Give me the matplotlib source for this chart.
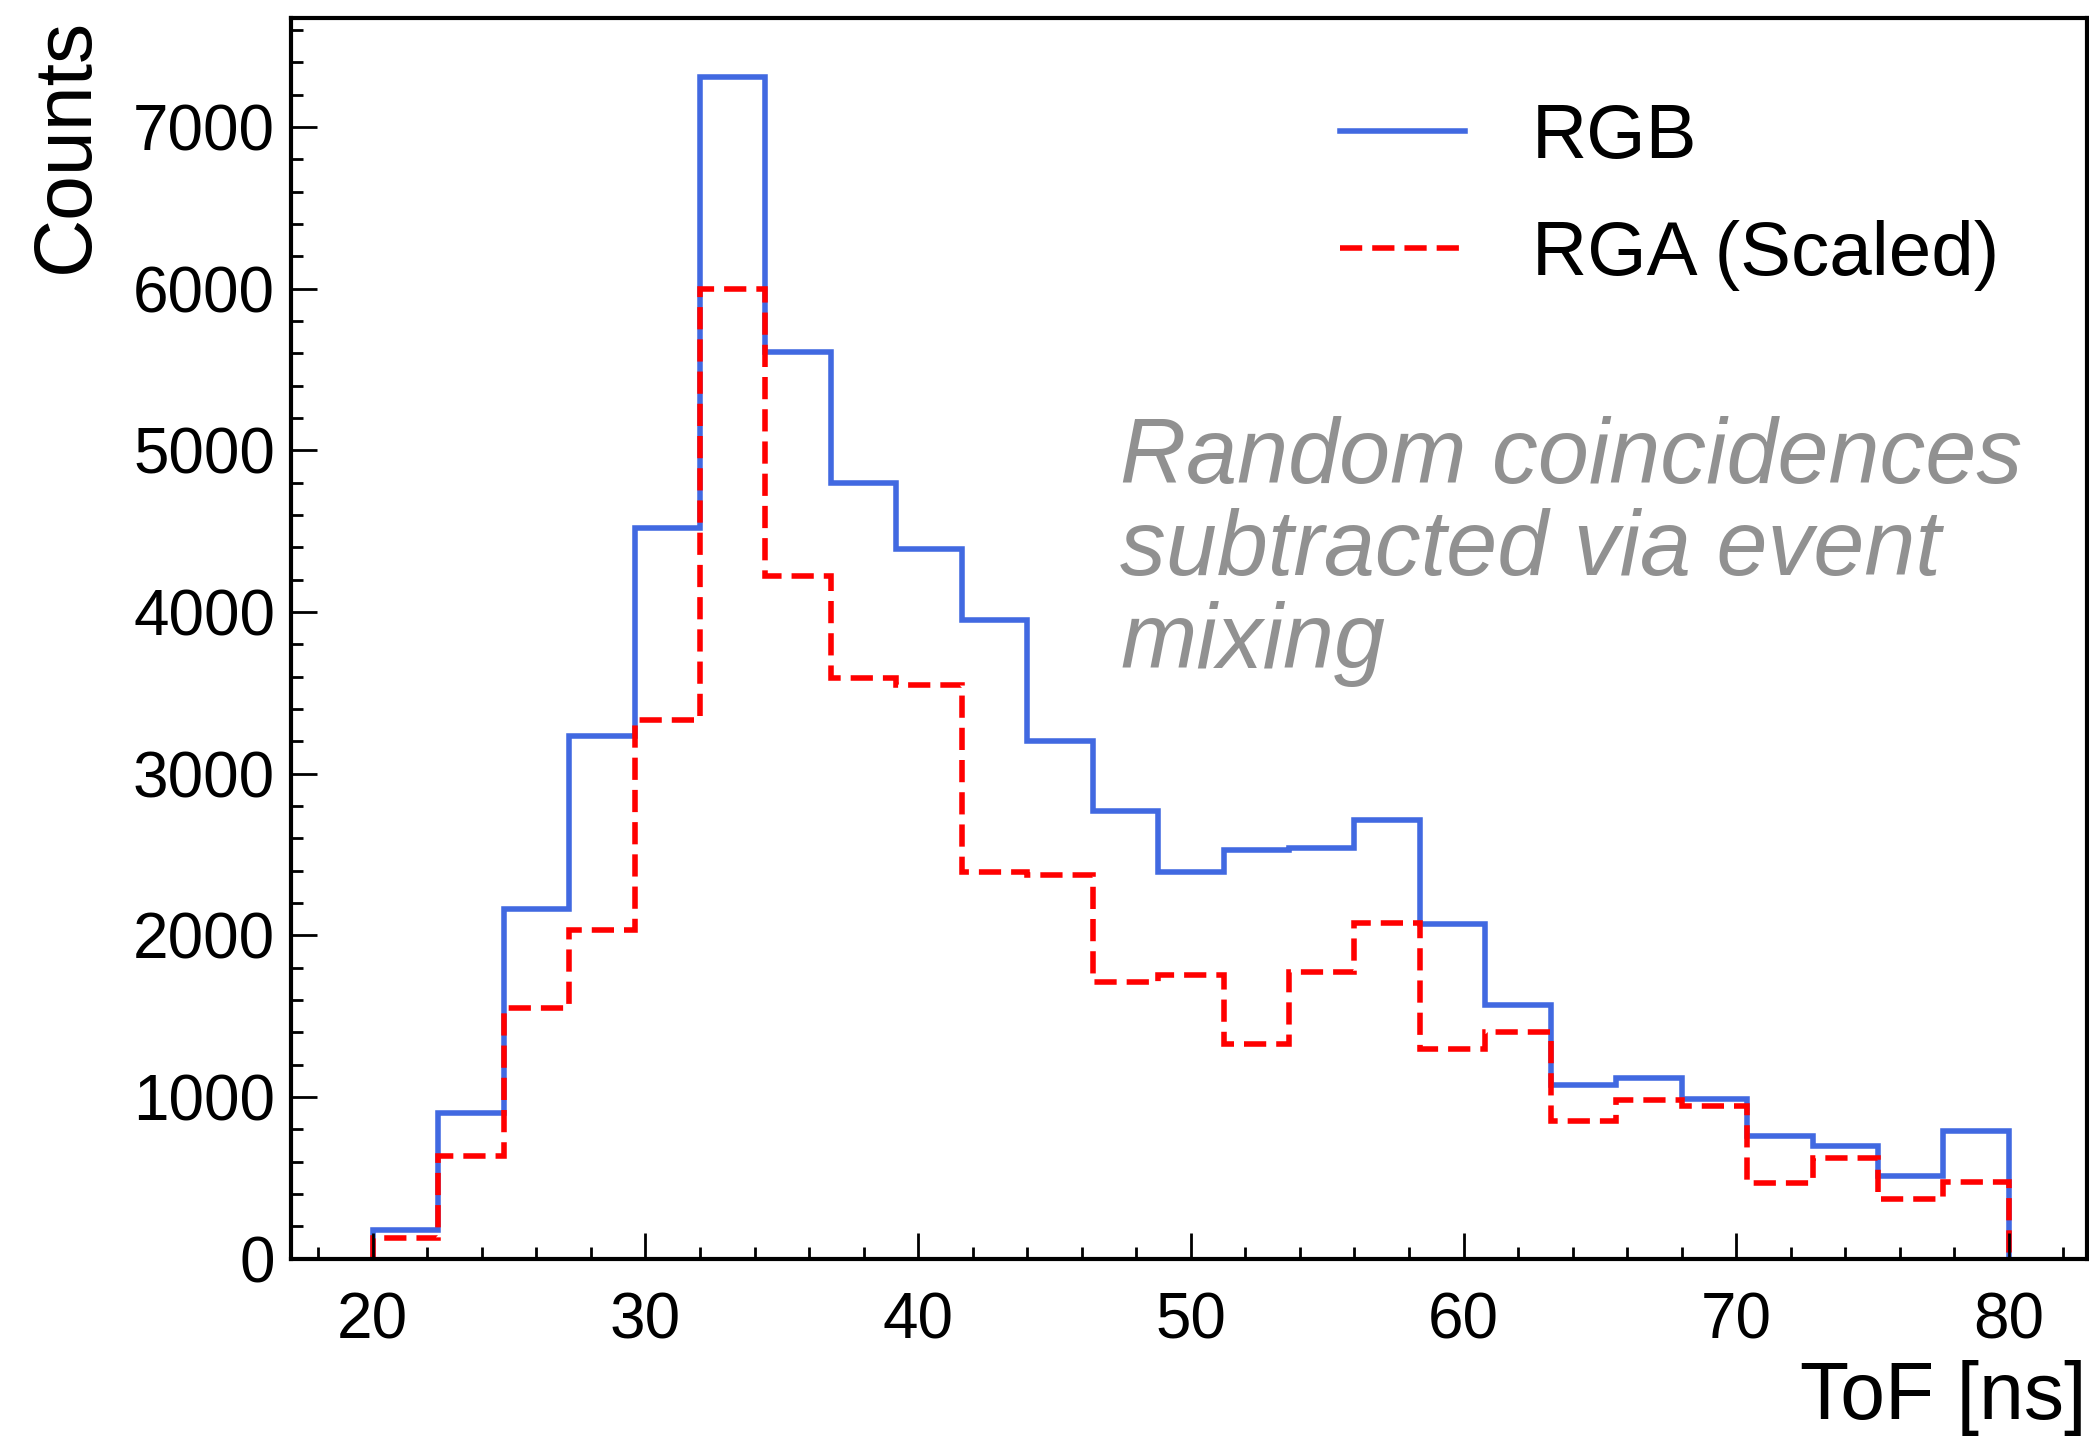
import numpy as np
import matplotlib
matplotlib.use("Agg")
import matplotlib.pyplot as plt

plt.rcParams['font.family'] = ['Liberation Sans', 'DejaVu Sans']

# ToF histogram, 25 bins from 20 to 80 ns
bin_edges = np.linspace(20, 80, 26)

rgb = [175, 900, 2160, 3230, 4520, 7310, 5610, 4800, 4390, 3950, 3200, 2770, 2390,
       2525, 2540, 2715, 2070, 1570, 1075, 1120, 990, 760, 695, 510, 790]
rga_scaled = [130, 635, 1550, 2030, 3330, 6000, 4220, 3590, 3550, 2390, 2375, 1710, 1755,
              1325, 1770, 2075, 1295, 1400, 850, 980, 945, 470, 620, 370, 475]

labels = ['RGB', 'RGA (Scaled)']
note = 'Random coincidences\nsubtracted via event\nmixing'

fig = plt.figure(figsize=(20.89, 14.38), dpi=100)
ax = fig.add_axes([0.1393, 0.1248, 0.8597, 0.8627])

ax.stairs(rgb, bin_edges, color='#4169E1', lw=4.0, label=labels[0], joinstyle='miter')
ax.stairs(rga_scaled, bin_edges, color='#FF0000', lw=4.0, linestyle=(0, (4.0, 1.8)),
          label=labels[1], joinstyle='miter')

ax.set_xlim(17.0, 82.86)
ax.set_ylim(0, 7675)

ax.set_xticks(np.arange(20, 81, 10))
ax.set_xticks(np.arange(18, 83, 2), minor=True)
ax.set_yticks(np.arange(0, 7001, 1000))
ax.set_yticks(np.arange(0, 7601, 200), minor=True)

ax.tick_params(which='both', direction='in', top=False, right=False, width=2.0)
ax.tick_params(which='major', length=18.5)
ax.tick_params(which='minor', length=8.6)
ax.tick_params(axis='x', which='major', labelsize=46, pad=24)
ax.tick_params(axis='y', which='major', labelsize=46, pad=11.5)

for sp in ax.spines.values():
    sp.set_linewidth(3)

ax.set_xlabel('ToF [ns]', fontsize=58, loc='right', labelpad=6)
ax.set_ylabel('Counts', fontsize=58, loc='top', labelpad=20)

ax.legend(loc='upper left', bbox_to_anchor=(0.6415, 0.9284), bbox_transform=fig.transFigure,
          frameon=False, fontsize=55, handlelength=1.64, handletextpad=0.87,
          labelspacing=0.60, borderpad=0, borderaxespad=0)

# va='baseline' puts the last line's baseline at y
fig.text(1120 / 2089, 1 - 668 / 1438, note, fontsize=66, fontstyle='italic',
         color='#919191', ha='left', va='baseline', linespacing=1.1)

fig.savefig('out.png', dpi=100)
